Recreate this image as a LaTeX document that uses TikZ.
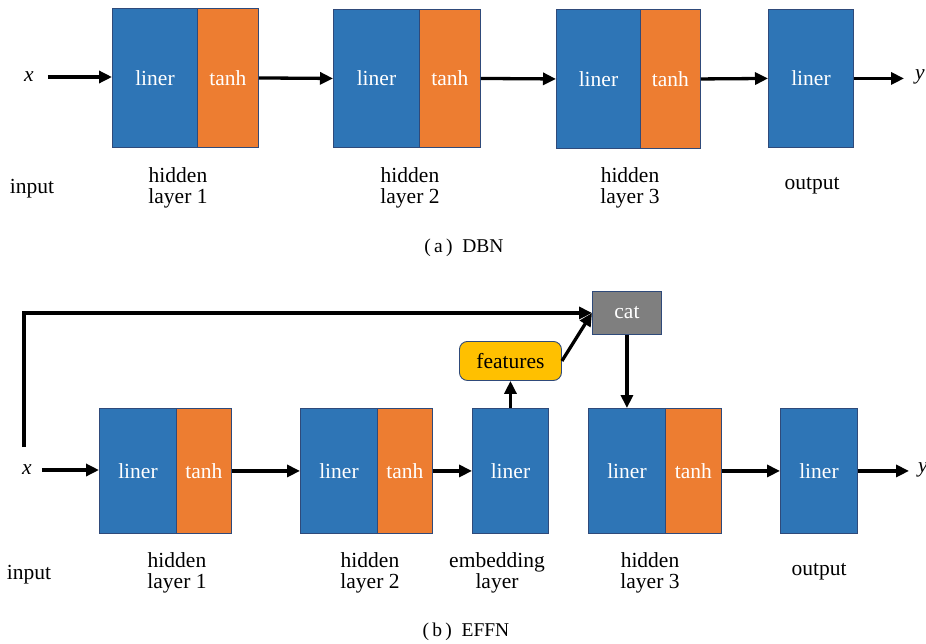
\documentclass[tikz,border=0pt]{standalone}
\usepackage{fontspec}
\setmainfont{Liberation Serif}
\usetikzlibrary{arrows.meta}
\definecolor{lblue}{HTML}{2E75B6}
\definecolor{lorange}{HTML}{ED7D31}
\definecolor{lgray}{HTML}{7F7F7F}
\definecolor{lyellow}{HTML}{FFC000}
\definecolor{bord}{HTML}{2F4A7A}
\tikzset{
 blk/.style={draw=bord, line width=0.9pt, anchor=north west, inner sep=0pt, text=white, font=\fontsize{21.5}{24}\selectfont},
 bl/.style={blk, fill=lblue},
 orb/.style={blk, fill=lorange},
 lbl/.style={font=\fontsize{21.5}{21}\selectfont, align=center, inner sep=0pt},
 captxt/.style={font=\fontsize{19.5}{20}\selectfont, inner sep=0pt},
 xl/.style={font=\fontsize{21.5}{22}\selectfont\itshape, inner sep=0pt},
 arr/.style={line width=3.3pt, -{Triangle[length=13pt,width=12pt]}},
}
\begin{document}
\begin{tikzpicture}[x=1pt,y=-1pt]
\useasboundingbox (0,0) rectangle (926,643);
% ---------------- (a) DBN
\node[xl] (ax) at (29,77) {x};
\node[bl, minimum width=85pt, minimum height=139pt] (a1l) at (112,8) {liner};
\node[orb, minimum width=61pt, minimum height=139pt] (a1t) at (197,8) {tanh};
\node[bl, minimum width=86pt, minimum height=138pt] (a2l) at (333,9) {liner};
\node[orb, minimum width=61pt, minimum height=138pt] (a2t) at (419,9) {tanh};
\node[bl, minimum width=84pt, minimum height=139pt] (a3l) at (556,9) {liner};
\node[orb, minimum width=60pt, minimum height=139pt] (a3t) at (640,9) {tanh};
\node[bl, minimum width=85pt, minimum height=138pt] (ao) at (768,9) {liner};
\node[xl] (ay) at (920,77) {y};
\draw[arr, shorten <=14pt] (ax.east) -- (a1l.west |- ax.east);
\draw[arr] (a1t.east) -- (a2l.west);
\draw[arr] (a2t.east) -- (a3l.west);
\draw[arr] (a3t.east) -- (ao.west);
\draw[arr, shorten >=11pt] (ao.east) -- (ay.west |- ao.east);
\node[lbl] (ain) at (32,189) {input};
\node[lbl] (ah1) at (178,188) {hidden\\layer 1};
\node[lbl] (ah2) at (410,188) {hidden\\layer 2};
\node[lbl] (ah3) at (630,188) {hidden\\layer 3};
\node[lbl] (aout) at (812,186) {output};
\node[captxt] (acap) at (464,248) {(\,a\,)\hspace{0.5em}DBN};
% ---------------- (b) EFFN
\node[xl] (bx) at (27,470) {x};
\coordinate (bup) at (24,447);
\node[blk, fill=lgray, minimum width=69pt, minimum height=43pt] (cat) at (592,291) {cat};
\node[draw=bord, line width=0.9pt, fill=lyellow, rounded corners=8pt, anchor=north west, inner sep=0pt,
      minimum width=102pt, minimum height=39pt, font=\fontsize{21.5}{24}\selectfont] (feat) at (459,341) {features};
\node[bl, minimum width=77pt, minimum height=125pt] (b1l) at (99,408) {liner};
\node[orb, minimum width=55pt, minimum height=125pt] (b1t) at (176,408) {tanh};
\node[bl, minimum width=77pt, minimum height=125pt] (b2l) at (300,408) {liner};
\node[orb, minimum width=55pt, minimum height=125pt] (b2t) at (377,408) {tanh};
\node[bl, minimum width=76pt, minimum height=125pt] (be) at (472,408) {liner};
\node[bl, minimum width=77pt, minimum height=125pt] (b3l) at (588,408) {liner};
\node[orb, minimum width=56pt, minimum height=125pt] (b3t) at (665,408) {tanh};
\node[bl, minimum width=77pt, minimum height=125pt] (bo) at (780,408) {liner};
\node[xl] (by) at (923,470) {y};
\draw[arr, shorten <=10pt] (bx.east) -- (b1l.west |- bx.east);
\draw[arr] (b1t.east) -- (b2l.west);
\draw[arr] (b2t.east) -- (be.west);
\draw[arr] (b3t.east) -- (bo.west);
\draw[arr, shorten >=9pt] (bo.east) -- (by.west |- bo.east);
\draw[arr] (bup) |- (cat.west);
\draw[arr] (feat.east) -- (cat.west);
\draw[arr] (be.north) -- (feat.south);
\draw[arr] (cat.south) -- (b3l.north);
\node[lbl] (bin) at (29,575) {input};
\node[lbl] (bh1) at (177,573) {hidden\\layer 1};
\node[lbl] (bh2) at (370,573) {hidden\\layer 2};
\node[lbl] (bemb) at (497,573) {embedding\\layer};
\node[lbl] (bh3) at (650,573) {hidden\\layer 3};
\node[lbl] (bout) at (819,572) {output};
\node[captxt] (bcap) at (466,632) {(\,b\,)\hspace{0.5em}EFFN};
\end{tikzpicture}
\end{document}
